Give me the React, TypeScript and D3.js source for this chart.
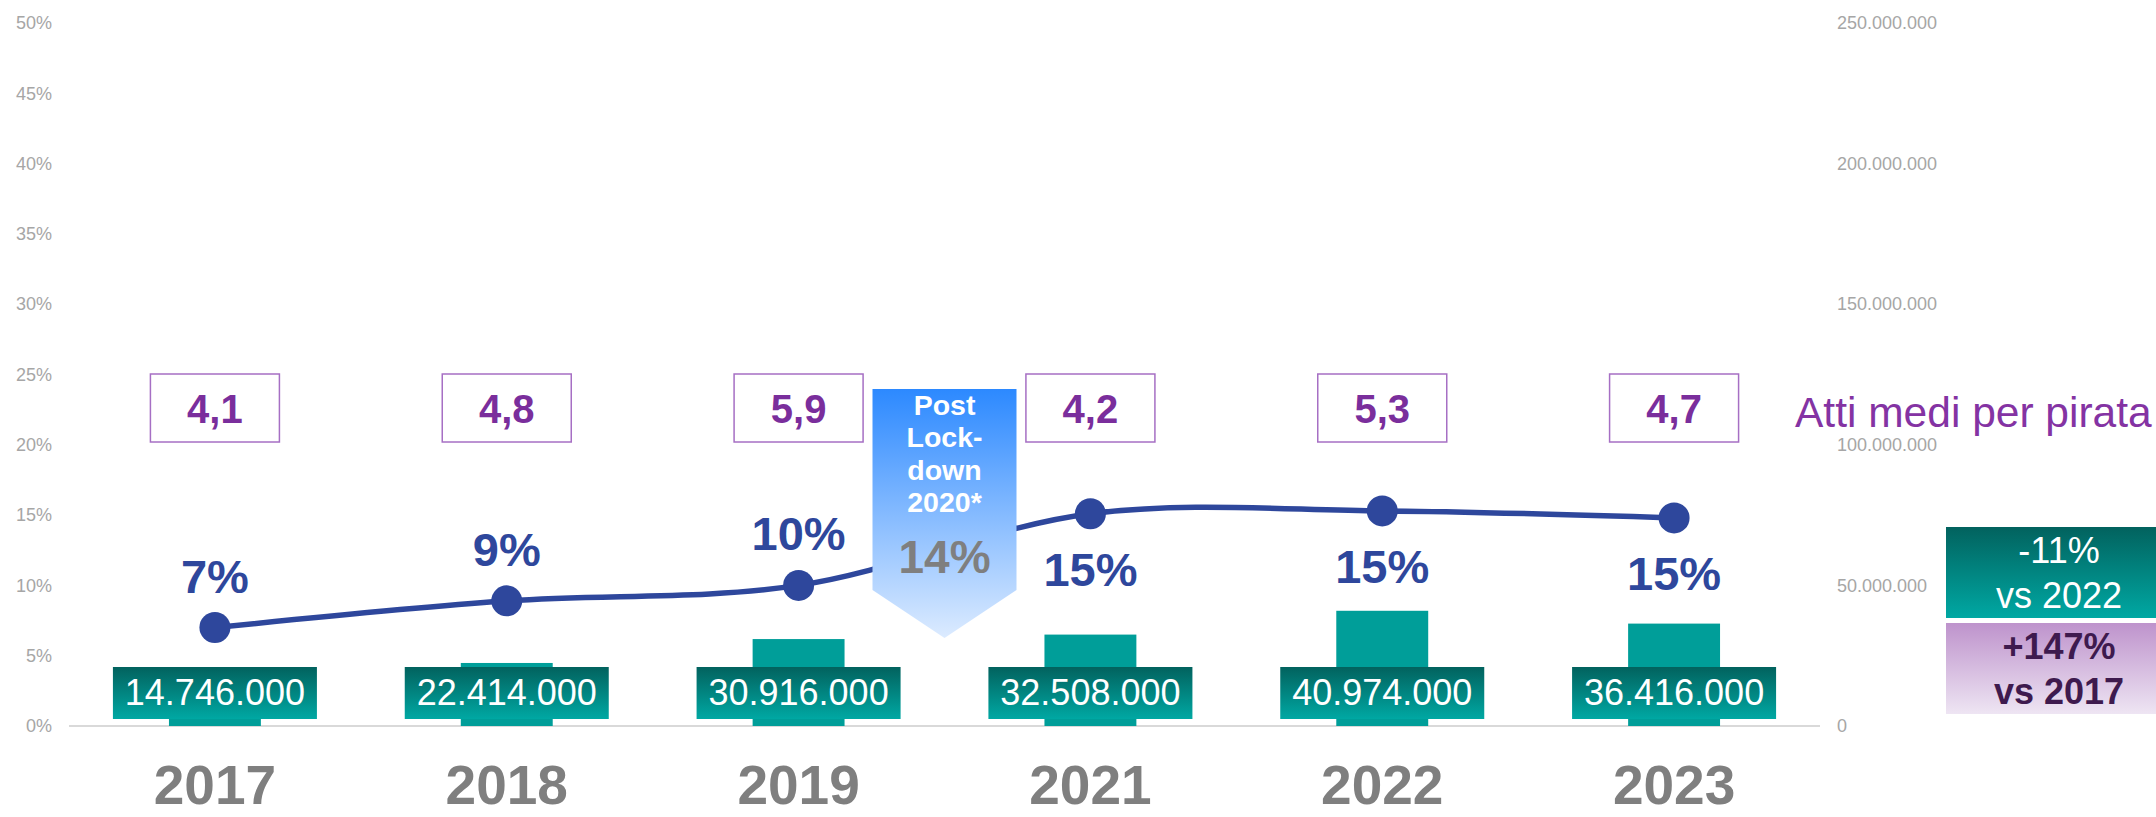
import { useEffect, useRef } from 'react';
import * as d3 from 'd3';

const years = ['2017', '2018', '2019', '2021', '2022', '2023'];
const pirati = [14746000, 22414000, 30916000, 32508000, 40974000, 36416000];
const quota = [7.0, 8.9, 10.0, 15.1, 15.3, 14.8];
const quotaLabels = ['7%', '9%', '10%', '15%', '15%', '15%'];
const attiMedi = ['4,1', '4,8', '5,9', '4,2', '5,3', '4,7'];
const leftTicks = [0, 5, 10, 15, 20, 25, 30, 35, 40, 45, 50];
const rightTicks = [0, 50000000, 100000000, 150000000, 200000000, 250000000];
const lockdownLines = ['Post', 'Lock-', 'down', '2020*'];
const lockdownValue = '14%';
const vs2022 = ['-11%', 'vs 2022'];
const vs2017 = ['+147%', 'vs 2017'];

const W = 2156;
const H = 817;
const FONT = 'Liberation Sans, Arial, sans-serif';

const App = () => {
    const ref = useRef(null);

    useEffect(() => {
        const svg = d3.select(ref.current);
        svg.selectAll('*').remove();

        const left = 69, right = 1820, top = 23, bottom = 726;
        const it = d3.formatLocale({ decimal: ',', thousands: '.', grouping: [3], currency: ['', ''] });
        const fmt = it.format(',');

        const x = d3.scaleBand()
            .domain(years)
            .range([left, right])
            .paddingInner(0.685)
            .paddingOuter(0.3425);
        const cx = d => x(d) + x.bandwidth() / 2;

        const yL = d3.scaleLinear().domain([0, 50]).range([bottom, top]);
        const yR = d3.scaleLinear().domain([0, 250000000]).range([bottom, top]);

        const defs = svg.append('defs');
        const grad = (id, c0, c1) => {
            const g = defs.append('linearGradient').attr('id', id)
                .attr('x1', 0).attr('y1', 0).attr('x2', 0).attr('y2', 1);
            g.append('stop').attr('offset', '0%').attr('stop-color', c0);
            g.append('stop').attr('offset', '100%').attr('stop-color', c1);
        };
        grad('teal', '#02625E', '#00A8A3');
        grad('lilac', '#BE93CC', '#EEE5F3');
        grad('blue', '#2C89FF', '#DCEBFF');

        // axes
        svg.append('g')
            .attr('transform', `translate(52,0)`)
            .call(d3.axisLeft(yL).tickValues(leftTicks).tickSize(0).tickPadding(0).tickFormat(d => d + '%'))
            .call(g => g.select('.domain').remove())
            .selectAll('text')
            .attr('fill', '#a6a6a6').attr('font-size', 18).attr('font-family', FONT);

        svg.append('g')
            .attr('transform', `translate(1837,0)`)
            .call(d3.axisRight(yR).tickValues(rightTicks).tickSize(0).tickPadding(0).tickFormat(fmt))
            .call(g => g.select('.domain').remove())
            .selectAll('text')
            .attr('fill', '#a6a6a6').attr('font-size', 18).attr('font-family', FONT);

        svg.append('line')
            .attr('x1', left).attr('x2', right)
            .attr('y1', yL(0)).attr('y2', yL(0))
            .attr('stroke', '#d9d9d9').attr('stroke-width', 2);

        // bars
        svg.append('g').selectAll('rect').data(pirati).join('rect')
            .attr('x', (d, i) => x(years[i]))
            .attr('y', d => yR(d))
            .attr('width', x.bandwidth())
            .attr('height', d => yR(0) - yR(d))
            .attr('fill', '#009E99');

        // bar value boxes
        const vb = svg.append('g').selectAll('g').data(pirati).join('g')
            .attr('transform', (d, i) => `translate(${cx(years[i])},0)`);
        vb.append('rect')
            .attr('x', -102).attr('y', 667).attr('width', 204).attr('height', 52)
            .attr('fill', 'url(#teal)');
        vb.append('text')
            .attr('y', 705).attr('text-anchor', 'middle')
            .attr('font-family', FONT).attr('font-size', 36).attr('fill', '#fff')
            .text(d => fmt(d));

        // line
        const line = d3.line()
            .x((d, i) => cx(years[i]))
            .y(d => yL(d))
            .curve(d3.curveCardinal.tension(0));
        svg.append('path')
            .datum(quota)
            .attr('d', line)
            .attr('fill', 'none')
            .attr('stroke', '#2E479C')
            .attr('stroke-width', 5.5);
        svg.append('g').selectAll('circle').data(quota).join('circle')
            .attr('cx', (d, i) => cx(years[i]))
            .attr('cy', d => yL(d))
            .attr('r', 15.5)
            .attr('fill', '#2E479C');
        svg.append('g').selectAll('text').data(quota).join('text')
            .attr('x', (d, i) => cx(years[i]))
            .attr('y', (d, i) => i < 3 ? yL(d) - 35 : yL(d) + 72)
            .attr('text-anchor', 'middle')
            .attr('font-family', FONT).attr('font-weight', 'bold').attr('font-size', 47)
            .attr('fill', '#2E479C')
            .text((d, i) => quotaLabels[i]);

        // atti medi boxes
        const ab = svg.append('g').selectAll('g').data(attiMedi).join('g')
            .attr('transform', (d, i) => `translate(${cx(years[i])},0)`);
        ab.append('rect')
            .attr('x', -64.5).attr('y', 374).attr('width', 129).attr('height', 68)
            .attr('fill', '#fff').attr('stroke', '#A66FC4').attr('stroke-width', 1.5);
        ab.append('text')
            .attr('y', 423).attr('text-anchor', 'middle')
            .attr('font-family', FONT).attr('font-weight', 'bold').attr('font-size', 40)
            .attr('fill', '#7A2E9C')
            .text(d => d);

        svg.append('text')
            .attr('x', 1795).attr('y', 427)
            .attr('font-family', FONT).attr('font-size', 42.5).attr('fill', '#8433A3')
            .text('Atti medi per pirata');

        // post lockdown arrow
        const ax = (cx('2019') + cx('2021')) / 2;
        const arrow = svg.append('g').attr('transform', `translate(${ax},0)`);
        arrow.append('path')
            .attr('d', 'M-72,389 L72,389 L72,590 L0,638 L-72,590 Z')
            .attr('fill', 'url(#blue)');
        arrow.selectAll('text.l').data(lockdownLines).join('text')
            .attr('class', 'l')
            .attr('y', (d, i) => 415 + i * 32.3)
            .attr('text-anchor', 'middle')
            .attr('font-family', FONT).attr('font-weight', 'bold').attr('font-size', 28.5)
            .attr('fill', '#fff')
            .text(d => d);
        arrow.append('text')
            .attr('y', 573).attr('text-anchor', 'middle')
            .attr('font-family', FONT).attr('font-weight', 'bold').attr('font-size', 46)
            .attr('fill', '#7f7f7f')
            .text(lockdownValue);

        // year labels
        svg.append('g').selectAll('text').data(years).join('text')
            .attr('x', d => cx(d))
            .attr('y', 804)
            .attr('text-anchor', 'middle')
            .attr('font-family', FONT).attr('font-weight', 'bold').attr('font-size', 55)
            .attr('fill', '#7f7f7f')
            .text(d => d);

        // side boxes
        const side = [
            { y: 527, fill: 'url(#teal)', color: '#fff', weight: 'normal', lines: vs2022 },
            { y: 623, fill: 'url(#lilac)', color: '#3E1A4E', weight: 'bold', lines: vs2017 },
        ];
        const sb = svg.append('g').selectAll('g').data(side).join('g');
        sb.append('rect')
            .attr('x', 1946).attr('y', d => d.y).attr('width', 210).attr('height', 91)
            .attr('fill', d => d.fill);
        sb.each(function (d) {
            d3.select(this).selectAll('text').data(d.lines).join('text')
                .attr('x', 2059)
                .attr('y', (t, i) => d.y + 36 + i * 45)
                .attr('text-anchor', 'middle')
                .attr('font-family', FONT).attr('font-weight', d.weight).attr('font-size', 36)
                .attr('fill', d.color)
                .text(t => t);
        });
    }, []);

    return (
        <svg ref={ref} width={W} height={H} style={{ position: 'absolute', left: 0, top: 0 }} />
    );
};

export default App;
